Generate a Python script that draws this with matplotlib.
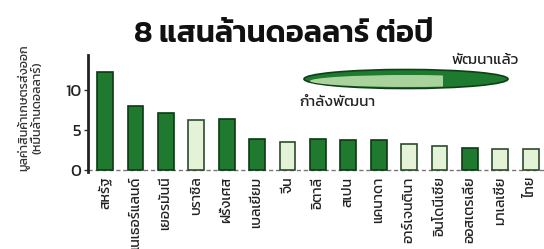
import matplotlib
matplotlib.use("Agg")
import matplotlib.pyplot as plt
from matplotlib.patches import Ellipse, Rectangle

plt.rcParams["font.family"] = ["Kanit", "DejaVu Sans"]

# --- data ---
countries = ["สหรัฐ", "เนเธอร์แลนด์", "เยอรมันนี", "บราซิล", "ฝรั่งเศส", "เบลเยียม",
             "จีน", "อิตาลี", "สเปน", "แคนาดา", "อาร์เจนตินา", "อินโดนีเซีย",
             "ออสเตรเลีย", "มาเลเซีย", "ไทย"]
values = [12.3, 8.0, 7.1, 6.3, 6.4, 3.9, 3.5, 3.9, 3.8, 3.8, 3.3, 3.0, 2.8, 2.6, 2.6]
developed = [True, True, True, False, True, True, False, True, True, True,
             False, False, True, False, False]
yticks = [0, 5, 10]

dark_face, dark_edge = "#1f7a30", "#0c3a15"
light_face, light_edge = "#e4f2d8", "#2c4a2c"

W, H = 544, 249
fig = plt.figure(figsize=(W / 100, H / 100), dpi=100)
fig.patch.set_facecolor("white")

# axes in pixel terms: left spine x=88, y=0 at row 170
ax = fig.add_axes([88 / W, 1 - 172.4 / H, 456 / W, 117.6 / H])
x = list(range(len(countries)))
faces = [dark_face if d else light_face for d in developed]
edges = [dark_edge if d else light_edge for d in developed]
ax.bar(x, values, width=0.52, color=faces, edgecolor=edges, linewidth=1.2, zorder=3)
ax.axhline(0, color="#777777", linestyle=(0, (3, 2)), linewidth=1, zorder=2)

ax.set_xlim(-0.56, 14.44)
ax.set_ylim(-0.3, 14.4)
ax.set_yticks(yticks)
ax.set_yticklabels([str(t) for t in yticks], fontsize=12, color="#222222")
ax.tick_params(axis="y", length=3, width=1, pad=2, color="#333333")
ax.set_xticks(x)
ax.set_xticklabels(countries, rotation=90, fontsize=10.2, color="#222222")
ax.tick_params(axis="x", length=0, pad=3)
for side in ["top", "right", "bottom"]:
    ax.spines[side].set_visible(False)
ax.spines["left"].set_linewidth(2)
ax.spines["left"].set_color("#222222")

ax.set_ylabel("มูลค่าสินค้าเกษตรส่งออก\n(หมื่นล้านดอลลาร์)", fontsize=9,
              color="#333333", linespacing=1.05)
ax.yaxis.set_label_coords(-0.10, 0.55)

# title
fig.text(284 / W, 1 - 35 / H, "8 แสนล้านดอลลาร์ ต่อปี", fontsize=22,
         fontweight="semibold", ha="center", va="center", color="#111111")

# legend: elongated capsule, light left part and dark right part
lax = fig.add_axes([0, 0, 1, 1])
lax.set_xlim(0, W)
lax.set_ylim(H, 0)
lax.axis("off")
body = Ellipse((406, 79), 204, 19, facecolor="#1e7a2e", edgecolor="#0f3f17", linewidth=1.2)
lax.add_patch(body)
light = Ellipse((408, 81), 196, 12, facecolor="#a9d29c", edgecolor="none")
lax.add_patch(light)
light.set_clip_path(Rectangle((300, 60), 143, 40, transform=lax.transData))
lax.text(485, 60, "พัฒนาแล้ว", fontsize=11, ha="center", va="center", color="#222222")
lax.text(337, 102, "กำลังพัฒนา", fontsize=11, ha="center", va="center", color="#222222")

fig.savefig("out.png", dpi=100)
